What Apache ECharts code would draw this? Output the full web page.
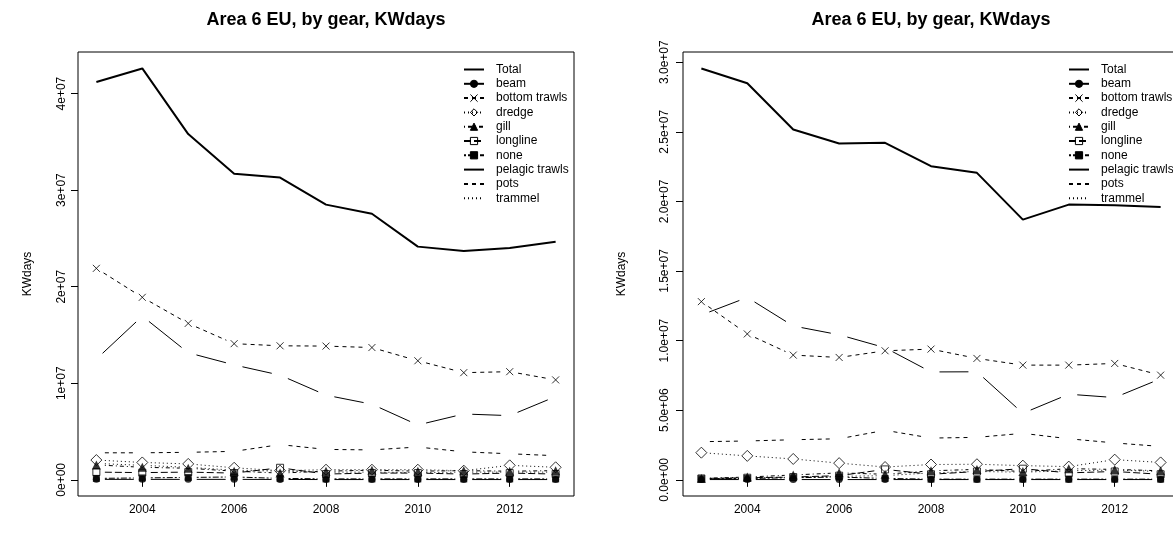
<!DOCTYPE html>
<html>
<head>
<meta charset="utf-8">
<script src="https://cdn.jsdelivr.net/npm/echarts@6/dist/echarts.min.js"></script>
<style>
html, body { margin: 0; padding: 0; background: #fff; }
#chart { width: 1173px; height: 534px; }
</style>
</head>
<body>
<div id="chart"></div>
<script>
const years = [2003, 2004, 2005, 2006, 2007, 2008, 2009, 2010, 2011, 2012, 2013]
const gears = ['Total', 'beam', 'bottom trawls', 'dredge', 'gill', 'longline', 'none', 'pelagic trawls', 'pots', 'trammel']

// left panel
const leftTotal    = [4.12e7, 4.26e7, 3.58e7, 3.17e7, 3.13e7, 2.85e7, 2.755e7, 2.415e7, 2.37e7, 2.40e7, 2.465e7]
const leftBeam     = [0.05e6, 0.05e6, 0.05e6, 0.05e6, 0.04e6, 0.03e6, 0.03e6, 0.03e6, 0.03e6, 0.03e6, 0.03e6]
const leftBottom   = [2.19e7, 1.89e7, 1.62e7, 1.41e7, 1.388e7, 1.385e7, 1.37e7, 1.233e7, 1.11e7, 1.12e7, 1.035e7]
const leftDredge   = [2.05e6, 1.8e6, 1.65e6, 1.25e6, 0.95e6, 1.05e6, 1.05e6, 1.05e6, 0.95e6, 1.5e6, 1.3e6]
const leftGill     = [1.55e6, 1.3e6, 1.2e6, 0.9e6, 0.7e6, 0.9e6, 1.0e6, 0.9e6, 0.95e6, 0.9e6, 0.95e6]
const leftLongline = [0.8e6, 0.75e6, 0.8e6, 0.7e6, 1.25e6, 0.6e6, 0.7e6, 0.7e6, 0.6e6, 0.7e6, 0.6e6]
const leftNone     = [0.15e6, 0.2e6, 0.25e6, 0.3e6, 0.15e6, 0.1e6, 0.1e6, 0.1e6, 0.1e6, 0.1e6, 0.1e6]
const leftPelagic  = [1.25e7, 1.695e7, 1.316e7, 1.19e7, 1.084e7, 8.77e6, 7.83e6, 5.68e6, 6.82e6, 6.65e6, 8.62e6]
const leftPots     = [2.8e6, 2.8e6, 2.85e6, 2.95e6, 3.65e6, 3.15e6, 3.1e6, 3.4e6, 2.9e6, 2.7e6, 2.5e6]
const leftTrammel  = [1.7e6, 1.5e6, 1.3e6, 1.0e6, 0.9e6, 0.8e6, 0.8e6, 0.75e6, 0.8e6, 0.8e6, 0.8e6]

// right panel
const rightTotal    = [2.955e7, 2.849e7, 2.517e7, 2.416e7, 2.421e7, 2.253e7, 2.205e7, 1.869e7, 1.977e7, 1.972e7, 1.96e7]
const rightBeam     = [0.02e6, 0.02e6, 0.02e6, 0.02e6, 0.02e6, 0.02e6, 0.02e6, 0.02e6, 0.02e6, 0.02e6, 0.02e6]
const rightBottom   = [1.28e7, 1.048e7, 8.96e6, 8.79e6, 9.27e6, 9.39e6, 8.72e6, 8.24e6, 8.24e6, 8.36e6, 7.52e6]
const rightDredge   = [1.95e6, 1.72e6, 1.5e6, 1.2e6, 0.92e6, 1.1e6, 1.12e6, 1.02e6, 0.95e6, 1.45e6, 1.25e6]
const rightGill     = [0.1e6, 0.2e6, 0.35e6, 0.5e6, 0.4e6, 0.65e6, 0.75e6, 0.6e6, 0.8e6, 0.75e6, 0.65e6]
const rightLongline = [0.1e6, 0.15e6, 0.2e6, 0.3e6, 0.75e6, 0.4e6, 0.6e6, 0.8e6, 0.5e6, 0.6e6, 0.4e6]
const rightNone     = [0.08e6, 0.1e6, 0.15e6, 0.2e6, 0.1e6, 0.05e6, 0.05e6, 0.05e6, 0.05e6, 0.05e6, 0.05e6]
const rightPelagic  = [1.184e7, 1.31e7, 1.105e7, 1.042e7, 9.49e6, 7.75e6, 7.76e6, 4.78e6, 6.15e6, 5.91e6, 7.26e6]
const rightPots     = [2.74e6, 2.79e6, 2.88e6, 2.95e6, 3.56e6, 3.0e6, 3.05e6, 3.34e6, 2.95e6, 2.65e6, 2.4e6]
const rightTrammel  = [0.05e6, 0.1e6, 0.2e6, 0.25e6, 0.3e6, 0.5e6, 0.6e6, 0.55e6, 0.65e6, 0.7e6, 0.6e6]

const xTicks = [2004, 2006, 2008, 2010, 2012]
const leftYTicks = [0, 1e7, 2e7, 3e7, 4e7]
const leftYLabels = ['0e+00', '1e+07', '2e+07', '3e+07', '4e+07']
const rightYTicks = [0, 5e6, 1e7, 1.5e7, 2e7, 2.5e7, 3e7]
const rightYLabels = ['0.0e+00', '5.0e+06', '1.0e+07', '1.5e+07', '2.0e+07', '2.5e+07', '3.0e+07']

const titleText = 'Area 6 EU, by gear, KWdays'
const FONT = 'Liberation Sans, Arial, Helvetica, sans-serif'

const leftSeries = [leftTotal, leftBeam, leftBottom, leftDredge, leftGill, leftLongline, leftNone, leftPelagic, leftPots, leftTrammel]
const rightSeries = [rightTotal, rightBeam, rightBottom, rightDredge, rightGill, rightLongline, rightNone, rightPelagic, rightPots, rightTrammel]

const X_PATH = 'path://M0,0L10,10M10,0L0,10'
const gearStyle = {
    'Total':          { dash: 'solid', width: 2, symbol: 'none', gaps: false },
    'beam':           { dash: 'solid', symbol: 'circle', size: 7, fill: '#000' },
    'bottom trawls':  { dash: [4, 4], symbol: X_PATH, size: 7, fill: 'transparent' },
    'dredge':         { dash: [1, 3], symbol: 'diamond', size: 11, fill: 'transparent' },
    'gill':           { dash: [1, 3, 4, 3], symbol: 'triangle', size: 9, fill: '#000' },
    'longline':       { dash: [7, 3], symbol: 'rect', size: 7, fill: 'transparent' },
    'none':           { dash: [2, 2, 6, 2], symbol: 'rect', size: 7, fill: '#000' },
    'pelagic trawls': { dash: 'solid', symbol: 'none' },
    'pots':           { dash: [4, 4], symbol: 'none' },
    'trammel':        { dash: [1, 3], symbol: 'none' }
}

// the right panel runs past the edge of the picture
const panels = [
    { left: 78, top: 52, width: 496, height: 444, values: leftSeries, yTicks: leftYTicks, yLabels: leftYLabels, labelMargin: 10, nameGap: 44, legendLeft: 463 },
    { left: 683, top: 52, width: 496, height: 444, values: rightSeries, yTicks: rightYTicks, yLabels: rightYLabels, labelMargin: 12, nameGap: 55, legendLeft: 1068 }
]

// R style 4% axis extension
const ext = (lo, hi) => [lo - 0.04 * (hi - lo), hi + 0.04 * (hi - lo)]

const GAP = 8.5
const gapped = (vals, kx, ky) => {
    const out = []
    for (let i = 0; i < years.length - 1; i++) {
        const x1 = years[i], y1 = vals[i], x2 = years[i + 1], y2 = vals[i + 1]
        const L = Math.hypot((x2 - x1) * kx, (y2 - y1) * ky)
        const f = Math.min(GAP / L, 0.45)
        out.push([x1 + (x2 - x1) * f, y1 + (y2 - y1) * f])
        out.push([x2 - (x2 - x1) * f, y2 - (y2 - y1) * f])
        out.push(['-', '-'])
    }
    return out
}

const grid = [], xAxis = [], yAxis = [], series = [], legend = [], graphic = []

panels.forEach((p, idx) => {
    const all = p.values.flat()
    const [ymin, ymax] = ext(Math.min(...all), Math.max(...all))
    const [xmin, xmax] = ext(years[0], years[years.length - 1])
    const kx = p.width / (xmax - xmin)
    const ky = p.height / (ymax - ymin)

    grid.push({
        left: p.left, top: p.top, width: p.width, height: p.height,
        outerBoundsMode: 'none', containLabel: false,
        show: true, borderColor: '#000', borderWidth: 1, backgroundColor: 'transparent'
    })

    xAxis.push({
        type: 'value', gridIndex: idx, min: xmin, max: xmax,
        axisLine: { show: false }, splitLine: { show: false },
        axisTick: { show: true, customValues: xTicks, length: 7, lineStyle: { color: '#000' } },
        axisLabel: { customValues: xTicks, color: '#000', fontSize: 12, fontFamily: FONT, margin: 8, formatter: v => String(v) }
    })

    yAxis.push({
        type: 'value', gridIndex: idx, min: ymin, max: ymax,
        axisLine: { show: false }, splitLine: { show: false },
        axisTick: { show: true, customValues: p.yTicks, length: 7, lineStyle: { color: '#000' } },
        axisLabel: {
            customValues: p.yTicks, rotate: 90, color: '#000', fontSize: 12, fontFamily: FONT, margin: p.labelMargin,
            formatter: v => p.yLabels[p.yTicks.indexOf(v)]
        },
        name: 'KWdays', nameLocation: 'middle', nameGap: p.nameGap, nameRotate: 90,
        nameTextStyle: { color: '#000', fontSize: 12, fontFamily: FONT }
    })

    gears.forEach((g, gi) => {
        const st = gearStyle[g]
        const vals = p.values[gi]
        const pts = years.map((y, i) => [y, vals[i]])
        const itemStyle = { color: st.fill || '#000', borderColor: '#000', borderWidth: st.fill === 'transparent' ? 1 : 0 }
        series.push({
            type: 'line', name: g, xAxisIndex: idx, yAxisIndex: idx,
            data: st.gaps === false ? pts : gapped(vals, kx, ky),
            showSymbol: false, symbol: st.symbol, symbolSize: st.size || 6,
            connectNulls: false, animation: false, silent: true,
            lineStyle: { color: '#000', width: st.width || 1, type: st.dash },
            itemStyle: itemStyle, z: 2
        })
        if (st.symbol !== 'none') {
            series.push({
                type: 'scatter', name: g, xAxisIndex: idx, yAxisIndex: idx,
                data: pts, symbol: st.symbol, symbolSize: st.size,
                animation: false, silent: true, itemStyle: itemStyle, z: 3
            })
        }
    })

    legend.push({
        orient: 'vertical', left: p.legendLeft, top: 62.5, padding: 0,
        itemWidth: 20, itemHeight: 9, itemGap: 0.3,
        selectedMode: false,
        textStyle: { color: '#000', fontSize: 12, fontFamily: FONT, lineHeight: 14, padding: [0, 0, 0, 7] },
        itemStyle: { borderWidth: 1 },
        data: gears.map(g => gearStyle[g].symbol === 'none' ? { name: g, itemStyle: { opacity: 0 } } : g)
    })

    graphic.push({
        type: 'text', x: p.left + p.width / 2, y: 20,
        style: { text: titleText, font: 'bold 18px ' + FONT, fill: '#000', textAlign: 'center', textVerticalAlign: 'middle' }
    })
})

const chart = echarts.init(document.getElementById('chart'), null, { renderer: 'canvas' })
chart.setOption({
    backgroundColor: '#fff',
    animation: false,
    grid, xAxis, yAxis, series, legend, graphic
})
</script>
</body>
</html>
